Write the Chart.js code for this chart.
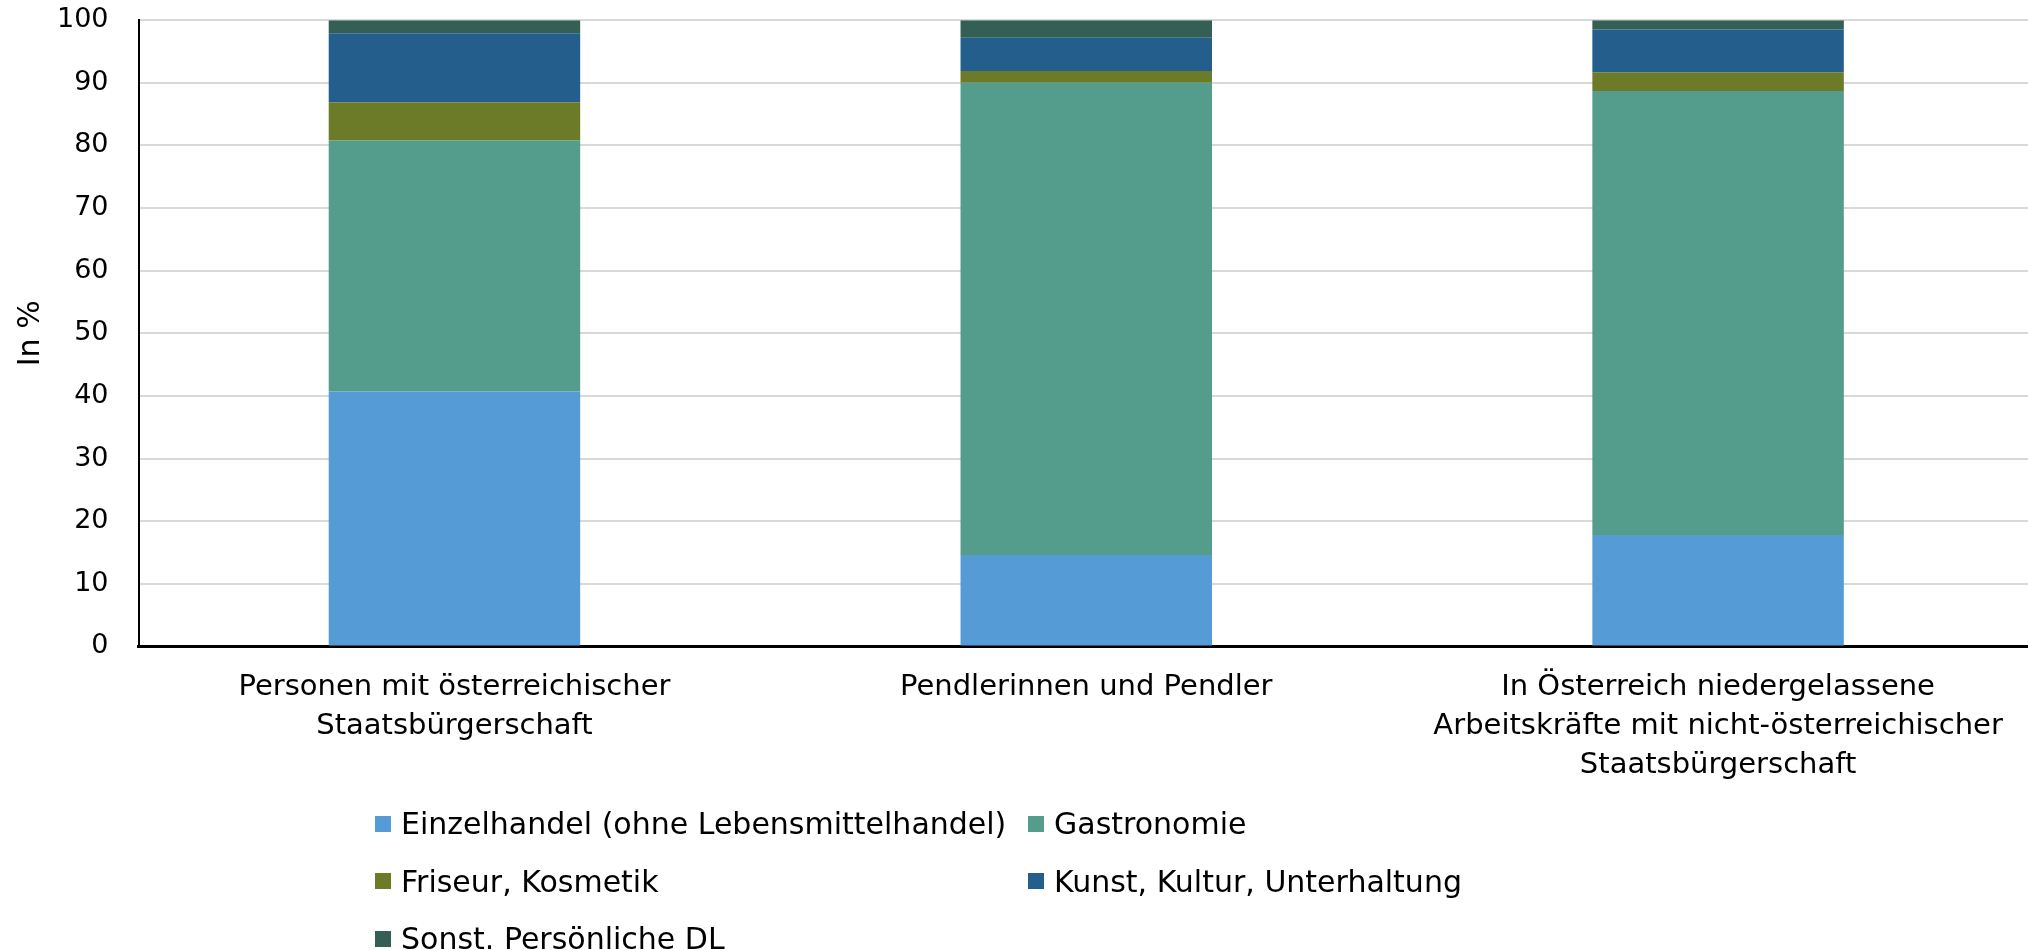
<!DOCTYPE html>
<html>
<head>
<meta charset="utf-8">
<script src="https://cdn.jsdelivr.net/npm/chart.js@4"></script>
<style>
    body { margin: 0; background: #fff; font-family: "DejaVu Sans", sans-serif; overflow: hidden; }
    #wrap { position: relative; width: 2028px; height: 950px; overflow: hidden; }
    #chartBox { position: absolute; left: 0; top: -1px; width: 2037px; height: 808px; }
    #legend { position: absolute; left: 375px; top: 795px; display: grid;
              grid-template-columns: 653px 653px; grid-auto-rows: 57.5px; }
    .item { display: flex; align-items: center; font-size: 30px; color: #000; white-space: nowrap; }
    .box { width: 16px; height: 16px; margin-right: 10px; flex: none; }
</style>
</head>
<body>
<div id="wrap">
    <div id="chartBox"><canvas id="myChart"></canvas></div>
    <div id="legend"></div>
</div>
<script>
// categories (x axis, multi-line)
const categories = [
    ['Personen mit österreichischer', 'Staatsbürgerschaft'],
    ['Pendlerinnen und Pendler'],
    ['In Österreich niedergelassene', 'Arbeitskräfte mit nicht-österreichischer', 'Staatsbürgerschaft']
];

// series values in %
const einzelhandel = [40.7, 14.6, 17.8];
const gastronomie  = [40.1, 75.4, 70.9];
const friseur      = [6.1, 1.9, 3.0];
const kunst        = [11.0, 5.3, 6.8];
const sonstige     = [2.1, 2.8, 1.5];

const seriesNames = [
    'Einzelhandel (ohne Lebensmittelhandel)',
    'Gastronomie',
    'Friseur, Kosmetik',
    'Kunst, Kultur, Unterhaltung',
    'Sonst. Persönliche DL'
];
const seriesColors = ['#559bd5', '#549c8b', '#6b7b28', '#235e8d', '#335f55'];

const yTicks = [0, 10, 20, 30, 40, 50, 60, 70, 80, 90, 100];

const seriesData = [einzelhandel, gastronomie, friseur, kunst, sonstige];

const datasets = seriesData.map((values, i) => ({
    label: seriesNames[i],
    data: values,
    backgroundColor: seriesColors[i],
    borderWidth: 0,
    categoryPercentage: 1,
    barPercentage: 0.398
}));

const ctx = document.getElementById('myChart').getContext('2d');
const chart = new Chart(ctx, {
    type: 'bar',
    data: { labels: categories, datasets: datasets },
    options: {
        responsive: true,
        maintainAspectRatio: false,
        animation: false,
        layout: { padding: { left: 13, right: 3, top: 0, bottom: 0 } },
        plugins: {
            legend: { display: false },
            tooltip: { enabled: false }
        },
        scales: {
            x: {
                stacked: true,
                grid: { display: false, drawTicks: false },
                border: { color: '#000', width: 3 },
                ticks: {
                    color: '#000',
                    padding: 22,
                    maxRotation: 0,
                    autoSkip: false,
                    font: { family: 'DejaVu Sans', size: 29, lineHeight: 1.34 }
                }
            },
            y: {
                stacked: true,
                min: 0,
                max: 100,
                afterBuildTicks: axis => { axis.ticks = yTicks.map(v => ({ value: v })); },
                grid: { color: '#d9d9d9', lineWidth: 2, drawTicks: true, tickLength: 25, tickColor: 'rgba(0,0,0,0)' },
                border: { color: '#000', width: 2 },
                ticks: {
                    color: '#000',
                    padding: 5,
                    font: { family: 'DejaVu Sans', size: 27 }
                },
                title: {
                    display: true,
                    text: 'In %',
                    color: '#000',
                    padding: { top: 0, bottom: 3 },
                    font: { family: 'DejaVu Sans', size: 30 }
                }
            }
        }
    }
});

// legend in two columns, built from the datasets
const legend = document.getElementById('legend');
datasets.forEach(ds => {
    const item = document.createElement('div');
    item.className = 'item';
    const box = document.createElement('span');
    box.className = 'box';
    box.style.background = ds.backgroundColor;
    const text = document.createElement('span');
    text.textContent = ds.label;
    item.appendChild(box);
    item.appendChild(text);
    legend.appendChild(item);
});
</script>
</body>
</html>
